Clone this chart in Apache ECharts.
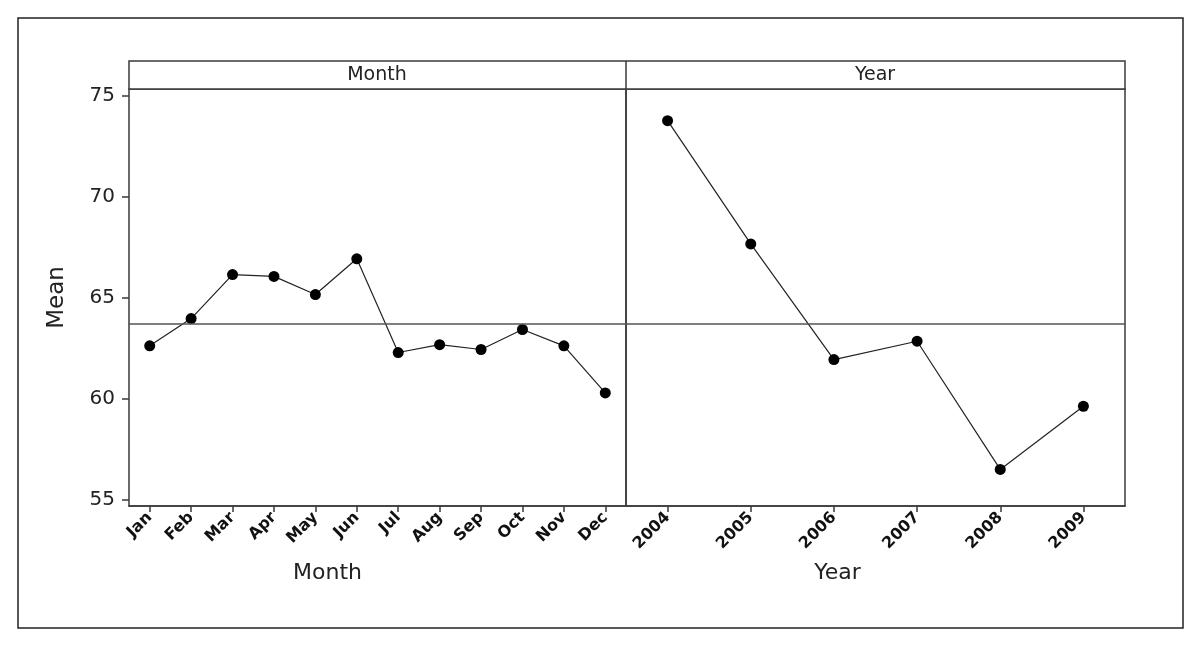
<!DOCTYPE html>
<html>
<head>
<meta charset="utf-8">
<script src="https://cdn.jsdelivr.net/npm/echarts@6/dist/echarts.min.js"></script>
<style>
html,body{margin:0;padding:0;background:#fff;}
#chart{width:1200px;height:651px;}
</style>
</head>
<body>
<div id="chart"></div>
<script>
const months = ['Jan','Feb','Mar','Apr','May','Jun','Jul','Aug','Sep','Oct','Nov','Dec'];
const monthMeans = [62.61, 63.96, 66.14, 66.05, 65.15, 66.92, 62.28, 62.67, 62.43, 63.42, 62.61, 60.28];
const years = ['2004','2005','2006','2007','2008','2009'];
const yearMeans = [73.76, 67.66, 61.93, 62.84, 56.49, 59.62];
const grandMean = 63.72;
const yTicks = [55, 60, 65, 70, 75];
const panelTitles = ['Month', 'Year'];
const axisTitles = ['Month', 'Year'];
const yTitle = 'Mean';

const FONT = 'DejaVu Sans';
const LINE = '#3a3a3a';

const chart = echarts.init(document.getElementById('chart'));

function makeSeries(idx, data) {
  return {
    type: 'line',
    xAxisIndex: idx,
    yAxisIndex: idx,
    data: data,
    symbol: 'circle',
    symbolSize: 11,
    itemStyle: { color: '#000' },
    lineStyle: { color: '#222', width: 1.2 },
    animation: false,
    markLine: {
      symbol: 'none',
      silent: true,
      animation: false,
      label: { show: false },
      lineStyle: { color: '#555', type: 'solid', width: 1.5 },
      data: [{ yAxis: grandMean }]
    }
  };
}

function makeX(idx, cats, title, padRight) {
  return {
    type: 'category',
    gridIndex: idx,
    data: cats,
    boundaryGap: true,
    axisLine: { show: true, lineStyle: { color: LINE, width: 1.5 } },
    axisTick: { show: true, alignWithLabel: true, length: 6, lineStyle: { color: LINE, width: 1.5 } },
    axisLabel: { rotate: 45, fontFamily: FONT, fontSize: 16, fontWeight: 'bold', color: '#111', margin: 9, interval: 0 },
    name: title,
    nameLocation: 'middle',
    nameGap: 56,
    nameTextStyle: { fontFamily: FONT, fontSize: 22, color: '#222', padding: [0, padRight, 0, 0] }
  };
}

function makeY(idx, show) {
  return {
    type: 'value',
    gridIndex: idx,
    min: 54.68,
    max: 75.33,
    show: show,
    splitLine: { show: false },
    axisLine: { show: false },
    axisTick: { show: true, length: 7, customValues: yTicks, lineStyle: { color: LINE, width: 1.5 } },
    axisLabel: { fontFamily: FONT, fontSize: 20, color: '#222', margin: 14, customValues: yTicks },
    name: show ? yTitle : '',
    nameLocation: 'middle',
    nameGap: 60,
    nameTextStyle: { fontFamily: FONT, fontSize: 23, color: '#222' }
  };
}

const option = {
  backgroundColor: '#fff',
  animation: false,
  grid: [
    { left: 129, top: 89, width: 497, height: 417, show: true, borderColor: LINE, borderWidth: 1.5, backgroundColor: 'transparent' },
    { left: 626, top: 89, width: 499, height: 417, show: true, borderColor: LINE, borderWidth: 1.5, backgroundColor: 'transparent' }
  ],
  xAxis: [makeX(0, months, axisTitles[0], 100), makeX(1, years, axisTitles[1], 76)],
  yAxis: [makeY(0, true), makeY(1, false)],
  series: [makeSeries(0, monthMeans), makeSeries(1, yearMeans)],
  graphic: [
    { type: 'rect', silent: true, z: 0, shape: { x: 18, y: 18, width: 1165, height: 610 }, style: { fill: 'none', stroke: '#222', lineWidth: 1.5 } },
    { type: 'rect', silent: true, z: 5, shape: { x: 129, y: 61, width: 996, height: 28 }, style: { fill: '#fff', stroke: LINE, lineWidth: 1.5 } },
    { type: 'line', silent: true, z: 6, shape: { x1: 626, y1: 61, x2: 626, y2: 89 }, style: { stroke: LINE, lineWidth: 1.5 } },
    { type: 'text', silent: true, z: 7, x: 377, y: 75, style: { text: panelTitles[0], fontFamily: FONT, fontSize: 19, fill: '#222', align: 'center', verticalAlign: 'middle' } },
    { type: 'text', silent: true, z: 7, x: 875, y: 75, style: { text: panelTitles[1], fontFamily: FONT, fontSize: 19, fill: '#222', align: 'center', verticalAlign: 'middle' } }
  ]
};

chart.setOption(option);
</script>
</body>
</html>
